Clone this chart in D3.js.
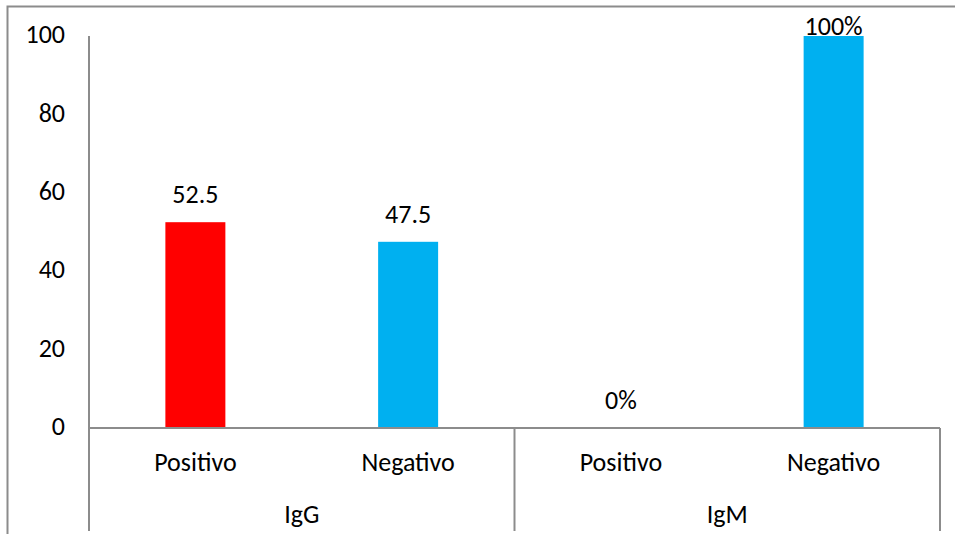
<!DOCTYPE html>
<html>
<head>
<meta charset="utf-8">
<script src="https://cdn.jsdelivr.net/npm/d3@7"></script>
<style>
  html, body { margin: 0; padding: 0; background: #fff; }
  svg text { font-family: Carlito, Calibri, "Open Sans", "Liberation Sans", sans-serif; fill: #000; }
</style>
</head>
<body>
<svg id="chart" width="955" height="539"></svg>
<script>
// Serology results: percentage of positive / negative per antibody class
const groups = ["IgG", "IgM"];
const subcategories = ["Positivo", "Negativo"];
const values = [52.5, 47.5, 0, 100];
const valueLabels = ["52.5", "47.5", "0%", "100%"];
const barColors = ["#FF0000", "#00B0F0", "#FF0000", "#00B0F0"];
const yTicks = [0, 20, 40, 60, 80, 100];

const svg = d3.select("#chart");
const axisColor = "#8c8c8c";
const fontSize = 26;

const plot = { left: 89, right: 940, top: 36, bottom: 428 };

// Chart frame (top and left edges)
svg.append("path")
  .attr("d", "M7.5,534 V6.5 H955")
  .attr("fill", "none")
  .attr("stroke", axisColor)
  .attr("stroke-width", 2);

const rows = [];
groups.forEach((g, gi) => subcategories.forEach((s, si) => {
  const i = gi * subcategories.length + si;
  rows.push({ key: g + "-" + s, group: g, sub: s, value: values[i], label: valueLabels[i], color: barColors[i] });
}));

const x = d3.scaleBand()
  .domain(rows.map(d => d.key))
  .range([plot.left, plot.right])
  .paddingInner(0.718)
  .paddingOuter(0.359);

const xOuter = d3.scaleBand()
  .domain(groups)
  .range([plot.left, plot.right]);

const y = d3.scaleLinear().domain([0, 100]).range([plot.bottom, plot.top]);

// Y axis: line and labels, no tick marks
const yAxis = svg.append("g")
  .attr("transform", `translate(${plot.left},0)`)
  .call(d3.axisLeft(y).tickValues(yTicks).tickSize(0).tickPadding(24));
yAxis.select(".domain").attr("stroke", axisColor).attr("stroke-width", 2)
  .attr("d", `M0,${plot.top}V${plot.bottom}`);
yAxis.selectAll("text").attr("font-size", fontSize).attr("dy", "0.26em")
  .style("font-family", 'Carlito, Calibri, "Open Sans", sans-serif');

// Bars
svg.append("g").selectAll("rect")
  .data(rows)
  .join("rect")
  .attr("x", d => x(d.key))
  .attr("width", x.bandwidth())
  .attr("y", d => y(d.value))
  .attr("height", d => y(0) - y(d.value))
  .attr("fill", d => d.color);

// Value labels
svg.append("g").selectAll("text")
  .data(rows)
  .join("text")
  .attr("x", d => x(d.key) + x.bandwidth() / 2)
  .attr("y", d => d.value >= 100 ? y(d.value) - 1 : y(d.value) - 19)
  .attr("text-anchor", "middle")
  .attr("font-size", fontSize)
  .text(d => d.label);

// X axis baseline and group separators
svg.append("line")
  .attr("x1", plot.left).attr("x2", plot.right)
  .attr("y1", plot.bottom).attr("y2", plot.bottom)
  .attr("stroke", axisColor).attr("stroke-width", 2);

const seps = groups.map(g => xOuter(g)).concat([plot.right]);
svg.append("g").selectAll("line")
  .data(seps)
  .join("line")
  .attr("x1", d => d).attr("x2", d => d)
  .attr("y1", plot.bottom).attr("y2", 531)
  .attr("stroke", axisColor).attr("stroke-width", 2);

// Subcategory labels
svg.append("g").selectAll("text")
  .data(rows)
  .join("text")
  .attr("x", d => x(d.key) + x.bandwidth() / 2)
  .attr("y", 471)
  .attr("text-anchor", "middle")
  .attr("font-size", fontSize)
  .text(d => d.sub);

// Group labels
svg.append("g").selectAll("text")
  .data(groups)
  .join("text")
  .attr("x", d => xOuter(d) + xOuter.bandwidth() / 2)
  .attr("y", 523)
  .attr("text-anchor", "middle")
  .attr("font-size", fontSize)
  .text(d => d);
</script>
</body>
</html>
